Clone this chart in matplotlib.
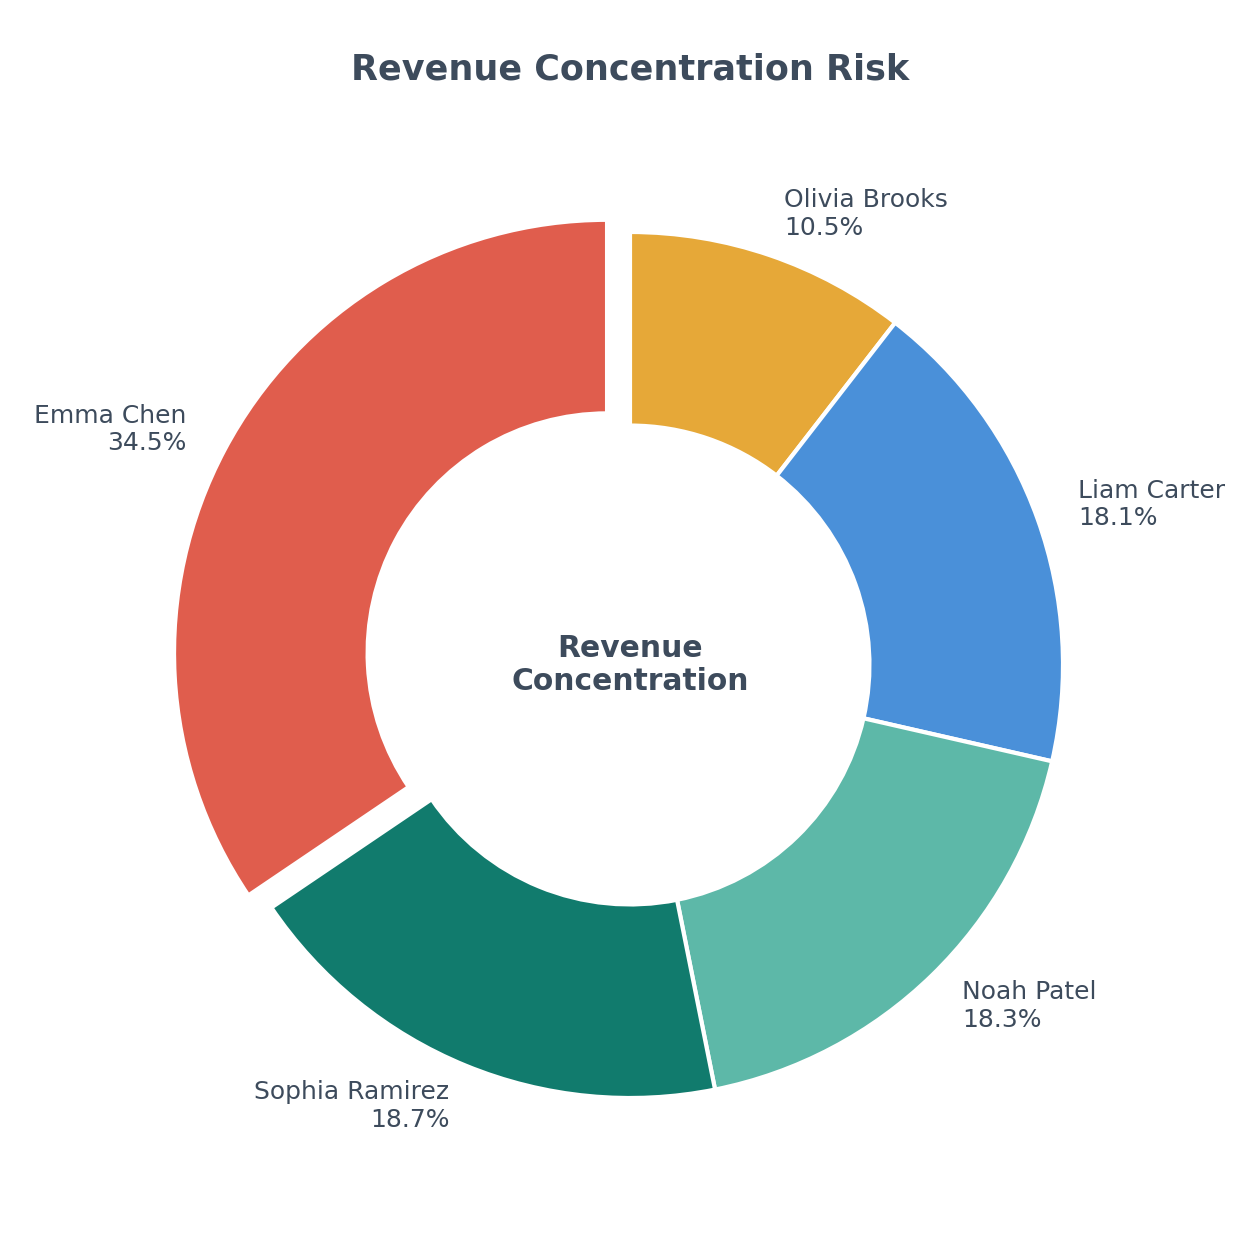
import matplotlib
matplotlib.use("Agg")
import matplotlib.pyplot as plt

names = ["Olivia Brooks", "Liam Carter", "Noah Patel", "Sophia Ramirez", "Emma Chen"]
shares = [10.5, 18.1, 18.3, 18.7, 34.5]
colors = ["#E6A838", "#4A90D9", "#5DB8A8", "#117B6D", "#E05D4D"]
explode = [0, 0, 0, 0, 0.06]

text_color = "#3D4B5C"

fig = plt.figure(figsize=(6.3, 6.3), dpi=200)
ax = fig.add_axes([0, 0, 1, 1])

labels = [f"{n}\n{s}%" for n, s in zip(names, shares)]
wedges, texts = ax.pie(
    shares,
    labels=labels,
    colors=colors,
    explode=explode,
    startangle=90,
    counterclock=False,
    radius=1.0,
    labeldistance=1.1,
    wedgeprops=dict(width=0.447, edgecolor="white", linewidth=1.5),
    textprops=dict(color=text_color, fontsize=9),
)

ax.text(0, 0, "Revenue\nConcentration", ha="center", va="center",
        fontsize=10.7, fontweight="bold", color=text_color)

s = 433.0
ax.set_xlim(-630 / s, 630 / s)
ax.set_ylim(-595 / s, 665 / s)
ax.set_aspect("equal")
ax.axis("off")

fig.text(0.5, 1 - 70 / 1260, "Revenue Concentration Risk", ha="center", va="center",
         fontsize=12.6, fontweight="bold", color=text_color)

fig.savefig("out.png", dpi=200, facecolor="white")
